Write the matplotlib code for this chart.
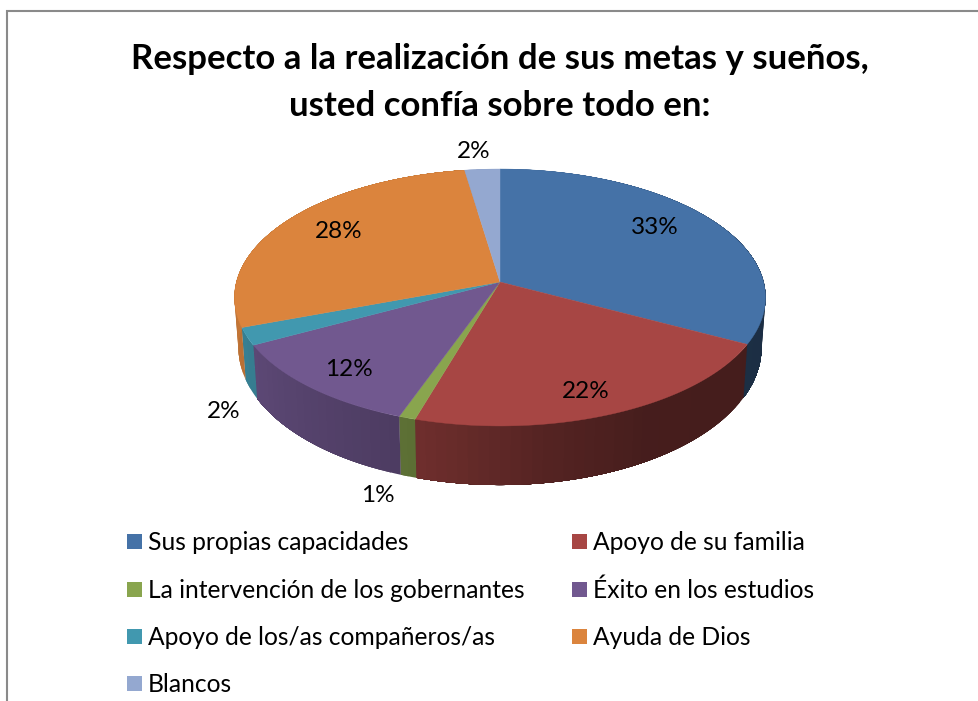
import matplotlib
matplotlib.use("Agg")
import matplotlib.pyplot as plt
from matplotlib.patches import Polygon, Rectangle
import numpy as np

# data
categories = ["Sus propias capacidades", "Apoyo de su familia",
              "La intervención de los gobernantes", "Éxito en los estudios",
              "Apoyo de los/as compañeros/as", "Ayuda de Dios", "Blancos"]
shares = [32.7, 21.9, 0.9, 11.7, 2.2, 28.2, 2.4]
title_lines = ["Respecto a la realización de sus metas y sueños,",
               "usted confía sobre todo en:"]

# style
colors = ["#4572A7", "#A74644", "#89A54E", "#71588F", "#4198AF", "#DB843D", "#94A8D0"]
FONT = "Lato"
label_pos = [(655, 228), (586, 391), (378, 496), (349, 370), (224, 411), (339, 232), (474, 152)]

# pie projection, in pixels
APEX_X, APEX_Y = 500, 282
A, B, K = 263.6, 126.6, 0.1206
WALL_DROP, WALL_SX, WALL_SY = 49, 0.985, 1.07
shade_at = [0, 90, 150, 170, 197, 242, 270, 360]
shade_val = [0.9, 0.40, 0.42, 0.50, 0.67, 0.82, 0.90, 0.9]


def rim(phi, lower=False):
    den = 1 + K * np.cos(phi)
    x = A * np.sin(phi) / den
    y = -B * np.cos(phi) / den
    if lower:
        return APEX_X + WALL_SX * x, APEX_Y + WALL_DROP + WALL_SY * y
    return APEX_X + x, APEX_Y + y


fig = plt.figure(figsize=(9.79, 7.01), dpi=100)
ax = fig.add_axes([0, 0, 1, 1])
ax.set_xlim(0, 979)
ax.set_ylim(701, 0)
ax.axis("off")

# chart frame runs off the right and bottom of the crop
ax.add_patch(Rectangle((7, 11), 1000, 800, fc="white", ec="#8a8a8a", lw=1.5))

edges = 2 * np.pi * np.cumsum([0] + shares) / sum(shares)

# side wall first, the top covers whatever is hidden
# each strip runs on under the next one so no seams show
for i, col in enumerate(colors):
    steps = np.linspace(edges[i], edges[i + 1], max(3, int(np.degrees(edges[i + 1] - edges[i]) / 2)))
    base = np.array(matplotlib.colors.to_rgb(col))
    for j in range(len(steps) - 1):
        p0, p1 = steps[j], steps[j + 1]
        f = np.interp(np.degrees((p0 + p1) / 2), shade_at, shade_val)
        arc = np.linspace(p0, edges[i + 1], 40)
        outline = [rim(p) for p in arc] + [rim(p, True) for p in arc[::-1]]
        ax.add_patch(Polygon(outline, closed=True, fc=tuple(base * f), ec="none", zorder=2))

# top face
for i, col in enumerate(colors):
    steps = np.linspace(edges[i], edges[i + 1], 80)
    pts = [(APEX_X, APEX_Y)] + [rim(p) for p in steps]
    ax.add_patch(Polygon(pts, closed=True, fc=col, ec=col, lw=0.3, zorder=3))

# percent labels
for val, (x, y) in zip(shares, label_pos):
    ax.text(x, y, f"{val:.0f}%", ha="center", va="center", fontsize=17.5,
            family=FONT, color="black", zorder=5)

# title
for line, y in zip(title_lines, [59, 106]):
    ax.text(500, y, line, ha="center", va="center", fontsize=25,
            fontweight="bold", family=FONT, color="black")

# legend
leg_x = [127, 572]
leg_y = [541.5, 589, 636, 683]
for i, (name, col) in enumerate(zip(categories, colors)):
    x = leg_x[i % 2]
    y = leg_y[i // 2]
    ax.add_patch(Rectangle((x, y - 7.5), 15, 15, fc=col, ec="none"))
    ax.text(x + 21, y + 1.5, name, ha="left", va="center", fontsize=17.7, family=FONT, color="black")

fig.savefig("out.png", dpi=100)
